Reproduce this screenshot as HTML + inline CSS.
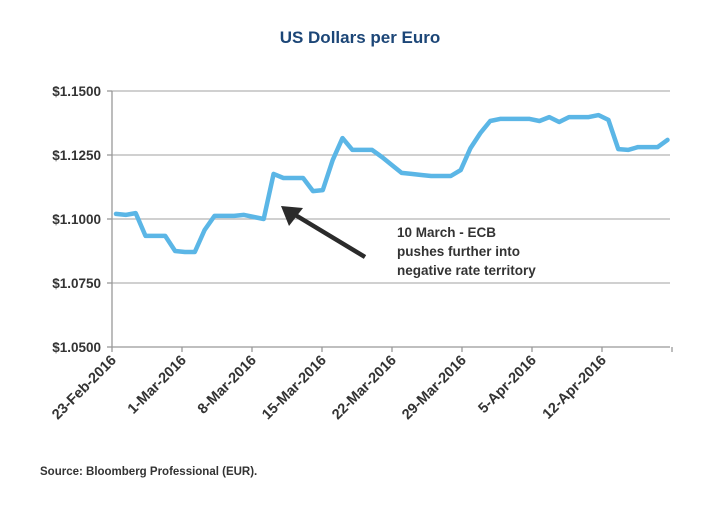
<!DOCTYPE html>
<html><head><meta charset="utf-8"><style>
body{margin:0;background:#fff;}
svg text{font-family:"Liberation Sans",sans-serif;}
</style></head><body>
<svg width="720" height="500" viewBox="0 0 720 500" xmlns="http://www.w3.org/2000/svg">
<text x="360" y="43" text-anchor="middle" font-size="17" font-weight="bold" fill="#1c4677">US Dollars per Euro</text>
<g id="grid"></g>
<g id="yax"></g>
<g id="xax"></g>
<path id="line" fill="none" stroke="#5bb6e6" stroke-width="4.5" stroke-linejoin="round" stroke-linecap="round"/>
<g>
<line x1="365" y1="257" x2="292" y2="213" stroke="#2b2b2b" stroke-width="4.5"/>
<polygon points="281,206 303,208 289,226" fill="#2b2b2b"/>
</g>
<text font-size="13.5" font-weight="bold" fill="#333">
<tspan x="397" y="237">10 March - ECB</tspan>
<tspan x="397" y="256">pushes further into</tspan>
<tspan x="397" y="275">negative rate territory</tspan>
</text>
<text x="40" y="475" font-size="11.5" font-weight="bold" fill="#333">Source: Bloomberg Professional (EUR).</text>
</svg>
<script>
const yTicks=[1.05,1.075,1.10,1.125,1.15];
const yTickLabels=["$1.0500","$1.0750","$1.1000","$1.1250","$1.1500"];
const xTickLabels=["23-Feb-2016","1-Mar-2016","8-Mar-2016","15-Mar-2016","22-Mar-2016","29-Mar-2016","5-Apr-2016","12-Apr-2016"];
const xTickDays=[0,7,14,21,28,35,42,49,56];
const values=[1.1020,1.1016,1.1023,1.0934,1.0934,1.0934,1.0875,1.0871,1.0871,1.0957,1.1012,1.1012,1.1012,1.1016,1.1008,1.1000,1.1176,1.1160,1.1160,1.1160,1.1109,1.1113,1.1230,1.1316,1.1270,1.1270,1.1270,1.1242,1.1211,1.1180,1.1176,1.1172,1.1168,1.1168,1.1168,1.1191,1.1277,1.1336,1.1383,1.1391,1.1391,1.1391,1.1391,1.1383,1.1398,1.1379,1.1398,1.1398,1.1398,1.1406,1.1387,1.1273,1.1270,1.1281,1.1281,1.1281,1.1309];
const NS="http://www.w3.org/2000/svg";
const y=v=>347-(v-1.05)/0.1*256;
const xt=d=>112+10*d;
const xd=i=>116+i*(667.5-116)/(values.length-1);
function mk(tag,attrs,parent){const e=document.createElementNS(NS,tag);for(const k in attrs)e.setAttribute(k,attrs[k]);parent.appendChild(e);return e;}
const grid=document.getElementById('grid'),yax=document.getElementById('yax'),xax=document.getElementById('xax');
yTicks.forEach((t,i)=>{
 const g=mk('line',{x1:112,x2:670,y1:y(t),y2:y(t),stroke:i==0?'#999':'#b5b5b5','stroke-width':1.3},grid);
 
 
 const tm=mk('line',{x1:107,x2:112,y1:y(t),y2:y(t),stroke:'#999','stroke-width':1.3},yax);
 
 
 const tx=mk('text',{x:101,y:y(t)+5,'text-anchor':'end','font-size':13.5,'font-weight':'bold',fill:'#333'},yax);
 tx.textContent=yTickLabels[i];
 
 
});
const ax=mk('line',{x1:112,x2:112,y1:y(1.15),y2:347,stroke:'#999','stroke-width':1.3},yax);


xTickDays.forEach((d,i)=>{
 const tm=mk('line',{x1:xt(d),x2:xt(d),y1:347,y2:352,stroke:'#999','stroke-width':1.3},xax);
 
 
 if(i<xTickLabels.length){
  const tx=mk('text',{x:xt(d)+5,y:361,'text-anchor':'end','font-size':14.5,'font-weight':'bold',fill:'#333',transform:`rotate(-45 ${xt(d)+5} 361)`},xax);
  tx.textContent=xTickLabels[i];
  
  
 }
});
document.getElementById('line').setAttribute('d',values.map((v,i)=>(i?'L':'M')+xd(i).toFixed(1)+','+y(v).toFixed(1)).join(''));
</script>
</body></html>
